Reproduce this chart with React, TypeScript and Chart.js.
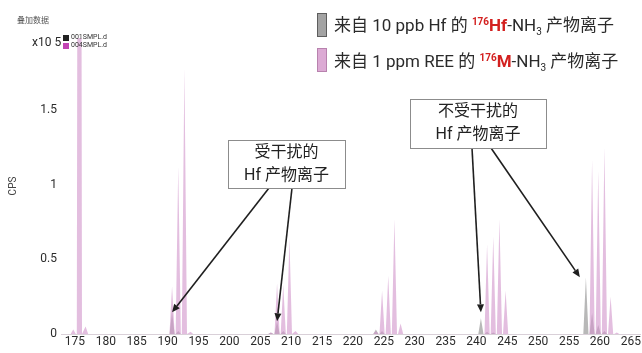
import React, { useEffect, useRef } from 'react';
import { Chart, registerables } from 'chart.js';

Chart.register(...registerables);

// Peak apex masses (amu) and intensities (x10^5 CPS)
const reeMasses = [175, 176, 177, 191, 192, 193, 194, 207, 208, 209, 210, 211, 224, 225, 226, 227, 228, 242, 243, 244, 245, 259, 260, 261, 262, 263];
const reeCps = [0.03, 12, 0.05, 0.32, 1.12, 1.78, 0.015, 0.01, 0.34, 0.33, 0.64, 0.02, 0.02, 0.29, 0.39, 0.77, 0.07, 0.6, 0.65, 0.77, 0.29, 1.165, 1.09, 1.25, 0.25, 0.01];

const hfMasses = [191, 192, 207, 208, 209, 224, 225, 241, 242, 243, 258, 259, 260, 261];
const hfCps = [0.145, 0.02, 0.01, 0.085, 0.02, 0.03, 0.02, 0.105, 0.015, 0.01, 0.38, 0.14, 0.06, 0.02];

// Axis settings
const xMin = 172.74;
const xMax = 266.5;
const massShift = 0.28; // spectrum mass calibration offset relative to the tick labels
const yMax = 1.98;
const yTickStep = 0.5;
const xTickStep = 5;

const PEAK_HALF_WIDTH = 0.42;

const FONT = 'Roboto, "Noto Sans CJK SC", sans-serif';

type Pt = { x: number; y: number };

function profile(masses: number[], cps: number[]): Pt[] {
  const pts: Pt[] = [];
  masses.forEach((m, i) => {
    pts.push({ x: m - PEAK_HALF_WIDTH, y: 0 }, { x: m, y: cps[i] }, { x: m + PEAK_HALF_WIDTH, y: 0 });
  });
  return pts;
}

const callouts = [
  {
    lines: ['受干扰的', 'Hf 产物离子'],
    left: 228, top: 140, width: 117, height: 48,
    arrows: [
      { fromX: 269, mass: 191, dx: 0, dy: 0 },
      { fromX: 292, mass: 208, dx: 0, dy: 0 },
    ],
  },
  {
    lines: ['不受干扰的', 'Hf 产物离子'],
    left: 410, top: 99, width: 136, height: 49,
    arrows: [
      { fromX: 472, mass: 241, dx: 0, dy: -6 },
      { fromX: 491, mass: 258, dx: -6, dy: 0 },
    ],
  },
];

const calloutPlugin = {
  id: 'callouts',
  afterDraw(chart: any) {
    const ctx: CanvasRenderingContext2D = chart.ctx;
    const xs = chart.scales.mz;
    const ys = chart.scales.y;
    ctx.save();
    callouts.forEach((c) => {
      // arrows
      c.arrows.forEach((a) => {
        const idx = hfMasses.indexOf(a.mass);
        const tx = xs.getPixelForValue(a.mass) + a.dx;
        const ty = ys.getPixelForValue(hfCps[idx]) + a.dy;
        const sx = a.fromX;
        const sy = c.top + c.height;
        const ang = Math.atan2(ty - sy, tx - sx);
        const head = 8;
        const hw = 3.5;
        const bx = tx - head * Math.cos(ang);
        const by = ty - head * Math.sin(ang);
        ctx.strokeStyle = '#1f1f1f';
        ctx.fillStyle = '#1f1f1f';
        ctx.lineWidth = 1.6;
        ctx.beginPath();
        ctx.moveTo(sx, sy);
        ctx.lineTo(bx, by);
        ctx.stroke();
        ctx.beginPath();
        ctx.moveTo(tx, ty);
        ctx.lineTo(bx + hw * Math.sin(ang), by - hw * Math.cos(ang));
        ctx.lineTo(bx - hw * Math.sin(ang), by + hw * Math.cos(ang));
        ctx.closePath();
        ctx.fill();
      });
      // box
      ctx.fillStyle = '#ffffff';
      ctx.fillRect(c.left, c.top, c.width, c.height);
      ctx.strokeStyle = '#8c8c8c';
      ctx.lineWidth = 1;
      ctx.strokeRect(c.left + 0.5, c.top + 0.5, c.width, c.height);
      ctx.fillStyle = '#222222';
      ctx.font = `16px ${FONT}`;
      ctx.textAlign = 'center';
      ctx.textBaseline = 'middle';
      const cx = c.left + c.width / 2;
      ctx.fillText(c.lines[0], cx, c.top + 12.5);
      ctx.fillText(c.lines[1], cx, c.top + 36);
    });
    ctx.restore();
  },
};

export default function App() {
  const canvasRef = useRef<HTMLCanvasElement | null>(null);

  useEffect(() => {
    if (!canvasRef.current) return;
    const chart = new Chart(canvasRef.current, {
      type: 'line',
      data: {
        datasets: [
          {
            label: '004SMPL.d',
            data: profile(reeMasses, reeCps),
            xAxisID: 'mz',
            yAxisID: 'y',
            backgroundColor: 'rgba(210, 150, 204, 0.62)',
            borderColor: 'rgba(0,0,0,0)',
            borderWidth: 0,
            pointRadius: 0,
            tension: 0,
            fill: 'origin',
          },
          {
            label: '001SMPL.d',
            data: profile(hfMasses, hfCps),
            xAxisID: 'mz',
            yAxisID: 'y',
            backgroundColor: 'rgba(150, 150, 150, 0.68)',
            borderColor: 'rgba(0,0,0,0)',
            borderWidth: 0,
            pointRadius: 0,
            tension: 0,
            fill: 'origin',
          },
        ],
      },
      options: {
        responsive: false,
        animation: false,
        events: [],
        layout: { padding: { top: 38, right: 1, left: 0, bottom: 0 } },
        plugins: {
          legend: { display: false },
          tooltip: { enabled: false },
        },
        scales: {
          x: {
            type: 'linear',
            position: 'bottom',
            min: xMin,
            max: xMax,
            grid: { display: false, drawTicks: false },
            border: { display: true, color: '#d9d0d8', width: 1 },
            ticks: {
              stepSize: xTickStep,
              includeBounds: false,
              padding: 1,
              autoSkip: false,
              maxRotation: 0,
              color: '#2b2b2b',
              font: { family: FONT, size: 12 },
              callback: (v: any) => String(Number(v)),
            },
            afterFit: (s: any) => {
              s.height = 19;
            },
          },
          mz: {
            type: 'linear',
            position: 'bottom',
            display: false,
            min: xMin + massShift,
            max: xMax + massShift,
          },
          y: {
            type: 'linear',
            min: 0,
            max: yMax,
            grid: { display: false, drawTicks: false },
            border: { display: false },
            ticks: {
              stepSize: yTickStep,
              includeBounds: false,
              padding: 4,
              color: '#2b2b2b',
              font: { family: FONT, size: 12 },
              callback: (v: any) => String(Number(v)),
            },
            title: {
              display: true,
              text: 'CPS',
              color: '#444',
              font: { family: FONT, size: 10 },
              padding: { top: 7, bottom: 0 },
            },
            afterFit: (s: any) => {
              s.width = 61;
            },
          },
        },
      },
      plugins: [calloutPlugin],
    } as any);
    return () => chart.destroy();
  }, []);

  const legendText: React.CSSProperties = {
    position: 'absolute',
    left: 334,
    height: 22,
    lineHeight: '22px',
    fontSize: 17,
    fontFamily: FONT,
    color: '#2a2a2a',
    whiteSpace: 'nowrap',
  };
  const red: React.CSSProperties = { color: '#d3201f', fontWeight: 700 };
  const sup: React.CSSProperties = { fontSize: 10, verticalAlign: 6, lineHeight: 0, color: '#d3201f', fontWeight: 700 };
  const sub: React.CSSProperties = { fontSize: 10, verticalAlign: -4, lineHeight: 0 };

  return (
    <div style={{ position: 'absolute', left: 0, top: 0, width: 642, height: 353, overflow: 'hidden', background: '#fff' }}>
      <canvas ref={canvasRef} width={642} height={353} style={{ position: 'absolute', left: 0, top: 0 }} />

      <div style={{ position: 'absolute', left: 17, top: 16, fontSize: 8, lineHeight: '10px', fontFamily: FONT, color: '#555' }}>叠加数据</div>

      <div style={{ position: 'absolute', left: 32, top: 34, fontSize: 12, lineHeight: '16px', fontFamily: FONT, color: '#2b2b2b', whiteSpace: 'nowrap' }}>x10 5</div>

      <div style={{ position: 'absolute', left: 63, top: 35, width: 6, height: 6, background: '#222' }} />
      <div style={{ position: 'absolute', left: 71, top: 33, fontSize: 7, lineHeight: '9px', fontFamily: FONT, color: '#333' }}>001SMPL.d</div>
      <div style={{ position: 'absolute', left: 63, top: 43, width: 6, height: 6, background: '#c244b4' }} />
      <div style={{ position: 'absolute', left: 71, top: 41, fontSize: 7, lineHeight: '9px', fontFamily: FONT, color: '#333' }}>004SMPL.d</div>

      <div style={{ position: 'absolute', left: 317, top: 13, width: 8, height: 22, background: '#a3a3a3', border: '1px solid #5e5e5e' }} />
      <div style={{ ...legendText, top: 14 }}>
        来自 10 ppb Hf 的 <span style={sup}>176</span><span style={red}>Hf</span>-NH<span style={sub}>3</span> 产物离子
      </div>
      <div style={{ position: 'absolute', left: 317, top: 48, width: 8, height: 22, background: '#dcaad4', border: '1px solid #b882ae' }} />
      <div style={{ ...legendText, top: 50 }}>
        来自 1 ppm REE 的 <span style={sup}>176</span><span style={red}>M</span>-NH<span style={sub}>3</span> 产物离子
      </div>
    </div>
  );
}
